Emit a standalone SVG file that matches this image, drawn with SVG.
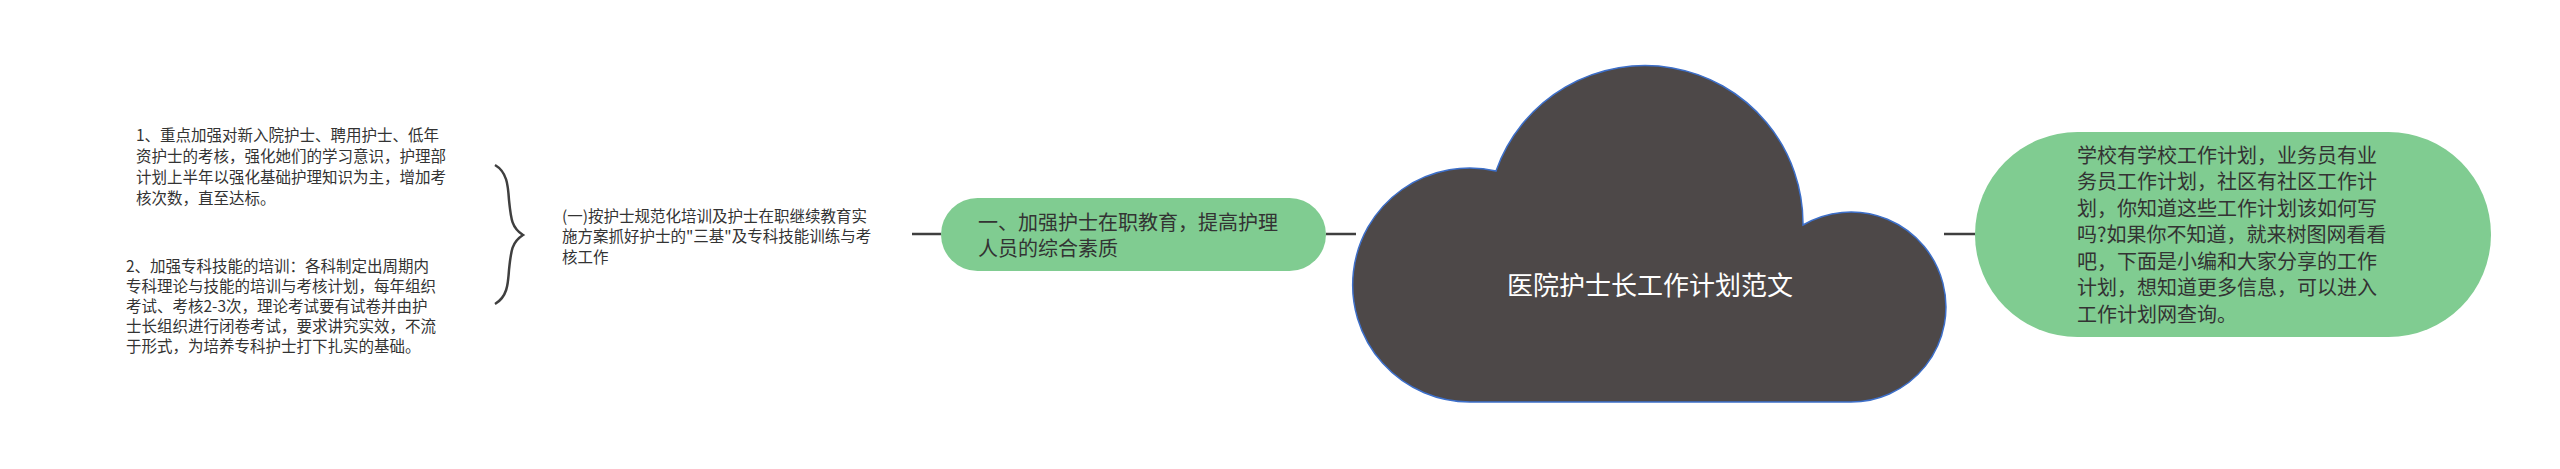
<svg xmlns="http://www.w3.org/2000/svg" width="2560" height="469" viewBox="0 0 2560 469">
<style>
.t{font-family:"Noto Sans CJK SC","Liberation Sans",sans-serif;fill:#333333}
.s{font-size:15.5px}
.m{font-size:20px}
.c{stroke:#3f3f3f;stroke-width:2.5;fill:none}
.green{fill:#80cc91}
</style>
<rect width="2560" height="469" fill="#ffffff"/>
<g id="connectors">
<path class="c" d="M495 165 C507 172 508 185 509 200 C511 220 512 228 523 235 C512 242 511 250 509 270 C508 285 507 297 495 304" stroke-width="2"/>
<line class="c" x1="912" y1="234" x2="941" y2="234"/>
<line class="c" x1="1326" y1="234" x2="1356" y2="234"/>
<line class="c" x1="1944" y1="234" x2="1975" y2="234"/>
</g>
<g id="root">
<path d="M1470 402 A117 117 0 1 1 1496 171 A158 158 0 0 1 1803 225 A95 95 0 1 1 1849 402 Z" fill="#4d4848" stroke="#3d6fc9" stroke-width="1.5"/>
<text x="1650" y="295" text-anchor="middle" style="font-family:'Noto Sans CJK SC','Liberation Sans',sans-serif;font-size:26px;fill:#ffffff">医院护士长工作计划范文</text>
</g>
<g id="intro">
<rect class="green" x="1975" y="132" width="516" height="205" rx="102.5"/>
<text class="t m" x="2077">
<tspan x="2077" y="162.6">学校有学校工作计划，业务员有业</tspan>
<tspan x="2077" y="189.1">务员工作计划，社区有社区工作计</tspan>
<tspan x="2077" y="215.6">划，你知道这些工作计划该如何写</tspan>
<tspan x="2077" y="242.1">吗?如果你不知道，就来树图网看看</tspan>
<tspan x="2077" y="268.6">吧，下面是小编和大家分享的工作</tspan>
<tspan x="2077" y="295.1">计划，想知道更多信息，可以进入</tspan>
<tspan x="2077" y="321.6">工作计划网查询。</tspan>
</text>
</g>
<g id="topic1">
<rect class="green" x="941" y="198" width="385" height="73" rx="36.5"/>
<text class="t m">
<tspan x="978" y="230.3">一、加强护士在职教育，提高护理</tspan>
<tspan x="978" y="255.9">人员的综合素质</tspan>
</text>
</g>
<g id="sub1">
<text class="t s">
<tspan x="562" y="221.5">(一)按护士规范化培训及护士在职继续教育实</tspan>
<tspan x="562" y="242">施方案抓好护士的"三基"及专科技能训练与考</tspan>
<tspan x="562" y="262.5">核工作</tspan>
</text>
</g>
<g id="item1">
<text class="t s">
<tspan x="136" y="141">1、重点加强对新入院护士、聘用护士、低年</tspan>
<tspan x="136" y="162">资护士的考核，强化她们的学习意识，护理部</tspan>
<tspan x="136" y="183">计划上半年以强化基础护理知识为主，增加考</tspan>
<tspan x="136" y="204">核次数，直至达标。</tspan>
</text>
</g>
<g id="item2">
<text class="t s">
<tspan x="126" y="271.5">2、加强专科技能的培训：各科制定出周期内</tspan>
<tspan x="126" y="291.5">专科理论与技能的培训与考核计划，每年组织</tspan>
<tspan x="126" y="311.5">考试、考核2-3次，理论考试要有试卷并由护</tspan>
<tspan x="126" y="331.5">士长组织进行闭卷考试，要求讲究实效，不流</tspan>
<tspan x="126" y="351.5">于形式，为培养专科护士打下扎实的基础。</tspan>
</text>
</g>
</svg>
